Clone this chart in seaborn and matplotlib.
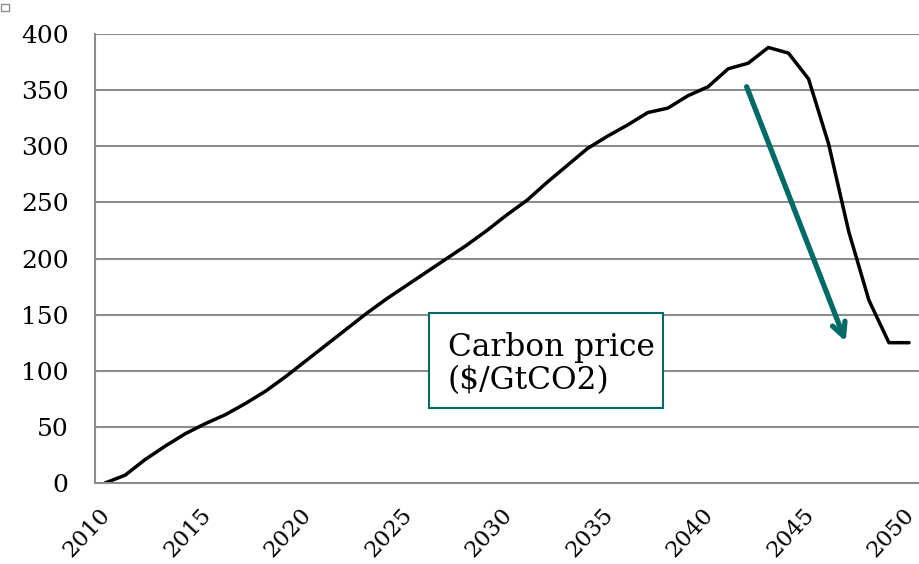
import matplotlib
matplotlib.use("Agg")
import matplotlib.pyplot as plt
from matplotlib.patches import Rectangle
from matplotlib.transforms import ScaledTranslation
import seaborn as sns
import pandas as pd

# Carbon price path, one value per year (2010-2050)
years = list(range(2010, 2051))
price = [0, 7, 21, 33, 44, 53, 61, 71, 82, 95,
         109, 123, 137, 151, 164, 176, 188, 200, 212, 225,
         239, 252, 268, 283, 298, 309, 319, 330, 334, 345,
         353, 369, 374, 388, 383, 360, 302, 224, 163, 125,
         125]
x_ticks = list(range(2010, 2051, 5))
y_ticks = list(range(0, 401, 50))

label_text = "Carbon price\n($/GtCO2)"
teal = "#006b66"
grid_grey = "#8c8c8c"

sns.set_theme(style="white")
plt.rcParams["font.family"] = ["DejaVu Serif"]

# Points sit in the middle of each yearly slot
df = pd.DataFrame({"year": [y + 0.5 for y in years], "price": price})

fig = plt.figure(figsize=(9.2, 5.64), dpi=100)
ax = fig.add_axes([0.1033, 0.1436, 0.8957, 0.7961])

sns.lineplot(data=df, x="year", y="price", ax=ax, color="black", linewidth=2.5)

ax.set_xlim(2010, 2051)
ax.set_ylim(0, 400)
ax.set_xticks(x_ticks)
ax.set_yticks(y_ticks)
ax.set_xlabel("")
ax.set_ylabel("")

ax.yaxis.grid(True, color=grid_grey, linewidth=1.5)
ax.xaxis.grid(False)
for side in ("top", "right"):
    ax.spines[side].set_visible(False)
for side in ("left", "bottom"):
    ax.spines[side].set_color(grid_grey)
    ax.spines[side].set_linewidth(1.5)

ax.tick_params(axis="both", which="major", direction="out", length=6,
               width=1.5, color=grid_grey, labelsize=18, labelcolor="black")
ax.tick_params(axis="x", labelsize=16.5, pad=9)
ax.tick_params(axis="y", pad=13)
shift = ScaledTranslation(4 / 100, 0, fig.dpi_scale_trans)
for lbl in ax.get_xticklabels():
    lbl.set_rotation(47)
    lbl.set_ha("right")
    lbl.set_rotation_mode("anchor")
    lbl.set_transform(lbl.get_transform() + shift)

# Downward arrow marking the price collapse
ax.annotate("", xy=(2047.35, 126), xytext=(2042.42, 353),
            arrowprops=dict(arrowstyle="->,head_length=0.8,head_width=0.4",
                            color=teal, lw=3.8, shrinkA=0, shrinkB=0))

# Labelled box
ax.add_patch(Rectangle((2026.62, 66.8), 11.64, 84.7, facecolor="white",
                       edgecolor=teal, linewidth=1.5, zorder=3))
ax.text(2027.56, 106, label_text, fontsize=22.5, color="black",
        va="center", ha="left", linespacing=1.05, zorder=4)

# Small handle square in the top-left corner
fig.patches.append(Rectangle((1 / 920, 1 - 11 / 564), 8 / 920, 7 / 564,
                             transform=fig.transFigure, fill=False,
                             edgecolor="#8c8c8c", linewidth=1.0))

fig.savefig("out.png", dpi=100)
